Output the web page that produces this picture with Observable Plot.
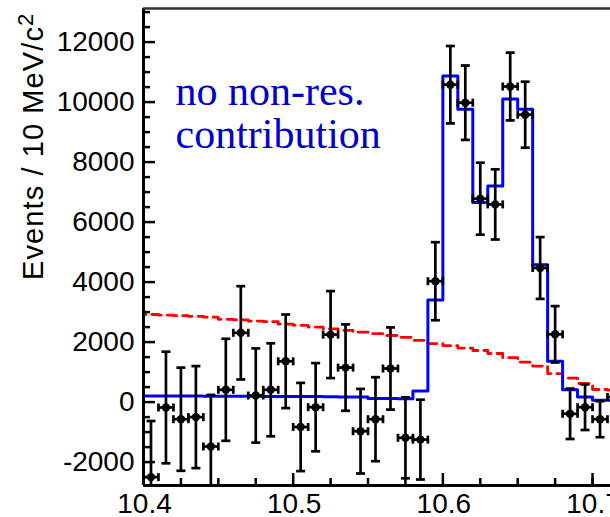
<!DOCTYPE html>
<html>
<head>
<meta charset="utf-8">
<script src="https://cdn.jsdelivr.net/npm/d3@7"></script>
<script src="https://cdn.jsdelivr.net/npm/@observablehq/plot@0.6"></script>
<style>
  html, body { margin: 0; padding: 0; background: #fff; overflow: hidden; }
  #chart svg { display: block; }
</style>
</head>
<body>
<div id="chart"></div>
<script>
// Lower edges of the 10 MeV/c^2 mass bins (GeV/c^2)
const binLow = [10.40, 10.41, 10.42, 10.43, 10.44, 10.45, 10.46, 10.47, 10.48, 10.49,
                10.50, 10.51, 10.52, 10.53, 10.54, 10.55, 10.56, 10.57, 10.58, 10.59,
                10.60, 10.61, 10.62, 10.63, 10.64, 10.65, 10.66, 10.67, 10.68, 10.69,
                10.70, 10.71];
const binWidth = 0.01;

// Signal yield per bin and its statistical uncertainty
const events = [-2500, -180, -570, -500, -1480, 410, 2310, 220, 410, 1360,
                -830, -170, 2250, 1150, -970, -570, 1120, -1190, -1250, 4030,
                10580, 9980, 6780, 6590, 10520, 9580, 4470, 2260, -390, -170,
                -570, 170];
const errors = [1870, 1860, 1720, 1700, 1720, 1700, 1555, 1570, 1550, 1560,
                1470, 1470, 1450, 1440, 1410, 1400, 1370, 1350, 1330, 1300,
                1290, 1240, 1200, 1170, 1130, 1100, 1030, 940, 840, 760,
                600, 560];

// Fit result without a non-resonant component (blue histogram)
const fitTotal = [200, 200, 200, 200, 198, 196, 194, 192, 190, 188,
                  186, 184, 182, 167, 167, 120, 120, 115, 370, 3400,
                  10870, 9760, 6650, 7200, 10100, 9760, 4580, 1360, 410, 170,
                  60, 60];

// Smooth shape component (red dashed histogram)
const fitShape = [2920, 2900, 2880, 2860, 2830, 2760, 2740, 2700, 2680, 2600,
                  2560, 2500, 2440, 2390, 2330, 2280, 2220, 2160, 2060, 1950,
                  1880, 1800, 1720, 1620, 1480, 1330, 1200, 950, 800, 620,
                  420, 400];

// Axis ranges and ticks
const xDomain = [10.4, 10.712];
const yDomain = [-2780, 13120];
const xMajor = [10.4, 10.5, 10.6, 10.7];
const xMinor = [10.425, 10.45, 10.475, 10.525, 10.55, 10.575, 10.625, 10.65, 10.675, 10.7];
const yMajor = [-2000, 0, 2000, 4000, 6000, 8000, 10000, 12000];
const yMinor = [-2500, -1500, -1000, -500, 500, 1000, 1500, 2500, 3000, 3500, 4500, 5000, 5500,
                6500, 7000, 7500, 8500, 9000, 9500, 10500, 11000, 11500, 12500, 13000];

const yTitle = "Events / 10 MeV/c";
const yTitleSup = "2";
const label = ["no non-res.", "contribution"];

// Table of points
const points = binLow.map((lo, i) => ({
  lo, hi: lo + binWidth, m: lo + binWidth / 2,
  v: events[i], e: errors[i]
}));

// Histogram outlines: value at each lower edge, closed at the last upper edge
function histogram(values, startAtZero) {
  const rows = binLow.map((lo, i) => ({x: lo, y: values[i]}));
  rows.push({x: binLow[binLow.length - 1] + binWidth, y: values[values.length - 1]});
  if (startAtZero) rows.unshift({x: binLow[0], y: 0});
  return rows;
}

// Pixel-sized cap glyphs for the error bars
const capH = {draw(ctx, size) { const r = Math.sqrt(size / Math.PI); ctx.moveTo(-r, 0); ctx.lineTo(r, 0); }};
const capV = {draw(ctx, size) { const r = Math.sqrt(size / Math.PI); ctx.moveTo(0, -r); ctx.lineTo(0, r); }};

// Tick lengths in data units (inward ticks)
const pxX = (610 - 143) / (xDomain[1] - xDomain[0]);
const pxY = (485 - 8) / (yDomain[1] - yDomain[0]);

const sans = "'Liberation Sans', Arial, Helvetica, sans-serif";
const barWidth = 2.7;

const chart = Plot.plot({
  width: 610,
  height: 517,
  marginLeft: 143,
  marginRight: 0,
  marginTop: 8,
  marginBottom: 32,
  style: {fontFamily: sans, background: "white", overflow: "hidden"},
  x: {domain: xDomain},
  y: {domain: yDomain},
  marks: [
    // Red dashed shape histogram
    Plot.line(histogram(fitShape, true), {
      x: "x", y: "y", curve: "step-after", stroke: "#ff0000",
      strokeWidth: 2.8, strokeDasharray: "10,6", clip: true
    }),
    // Blue fit histogram
    Plot.line(histogram(fitTotal, false), {
      x: "x", y: "y", curve: "step-after", stroke: "#0000ff",
      strokeWidth: 3, clip: true
    }),
    // Vertical error bars with caps
    Plot.ruleX(points, {x: "m", y1: d => d.v - d.e, y2: d => d.v + d.e, stroke: "black", strokeWidth: barWidth, clip: true}),
    Plot.dot(points, {x: "m", y: d => d.v - d.e, symbol: capH, r: 4.5, stroke: "black", strokeWidth: barWidth, clip: true}),
    Plot.dot(points, {x: "m", y: d => d.v + d.e, symbol: capH, r: 4.5, stroke: "black", strokeWidth: barWidth, clip: true}),
    // Horizontal bin-width bars with caps
    Plot.ruleY(points, {y: "v", x1: "lo", x2: "hi", stroke: "black", strokeWidth: barWidth, clip: true}),
    Plot.dot(points, {x: "lo", y: "v", symbol: capV, r: 4, stroke: "black", strokeWidth: barWidth, clip: true}),
    Plot.dot(points, {x: "hi", y: "v", symbol: capV, r: 4, stroke: "black", strokeWidth: barWidth, clip: true}),
    Plot.dot(points, {x: "m", y: "v", r: 4.2, fill: "black", stroke: "none", clip: true}),

    // Frame: left and bottom axis lines, top border
    Plot.ruleX([xDomain[0]], {stroke: "black", strokeWidth: 3}),
    Plot.ruleY([yDomain[0]], {stroke: "black", strokeWidth: 3}),
    Plot.ruleY([yDomain[1]], {stroke: "#333", strokeWidth: 2.5}),

    // Inward ticks
    Plot.ruleY(yMajor, {y: d => d, x1: xDomain[0], x2: xDomain[0] + 12 / pxX, stroke: "black", strokeWidth: 2.5}),
    Plot.ruleY(yMinor, {y: d => d, x1: xDomain[0], x2: xDomain[0] + 7 / pxX, stroke: "black", strokeWidth: 2.5}),
    Plot.ruleX(xMajor, {x: d => d, y1: yDomain[0], y2: yDomain[0] + 12 / pxY, stroke: "black", strokeWidth: 2.5}),
    Plot.ruleX(xMinor, {x: d => d, y1: yDomain[0], y2: yDomain[0] + 7 / pxY, stroke: "black", strokeWidth: 2.5}),

    // Tick labels
    Plot.axisY(yMajor, {tickSize: 0, tickPadding: 9, fontSize: 28, label: null, tickFormat: d => String(d), fill: "black"}),
    Plot.axisX(xMajor, {tickSize: 0, tickPadding: 8, fontSize: 28, label: null, tickFormat: d3.format(".1f"), fill: "black", dx: 1}),

    // Axis title
    Plot.text([yTitle], {
      frameAnchor: "left", rotate: -90, textAnchor: "start", lineAnchor: "bottom",
      dx: -101, dy: 33, fontSize: 29, fill: "black"
    }),
    // Annotation
    Plot.text([label.join("\n")], {
      frameAnchor: "top-left", textAnchor: "start", lineAnchor: "top",
      dx: 32, dy: 66, fontSize: 42, lineHeight: 1.03, fill: "#0000cc",
      fontFamily: "'Liberation Serif', 'Times New Roman', serif"
    })
  ]
});

// Letter spacing and a raised "2" on the y-axis title
d3.select(chart).selectAll("text")
  .filter(function() { return this.textContent === yTitle; })
  .attr("letter-spacing", "1.1")
  .append("tspan")
  .attr("dy", "-0.42em")
  .attr("font-size", "22")
  .text(yTitleSup);

document.getElementById("chart").appendChild(chart);
</script>
</body>
</html>
